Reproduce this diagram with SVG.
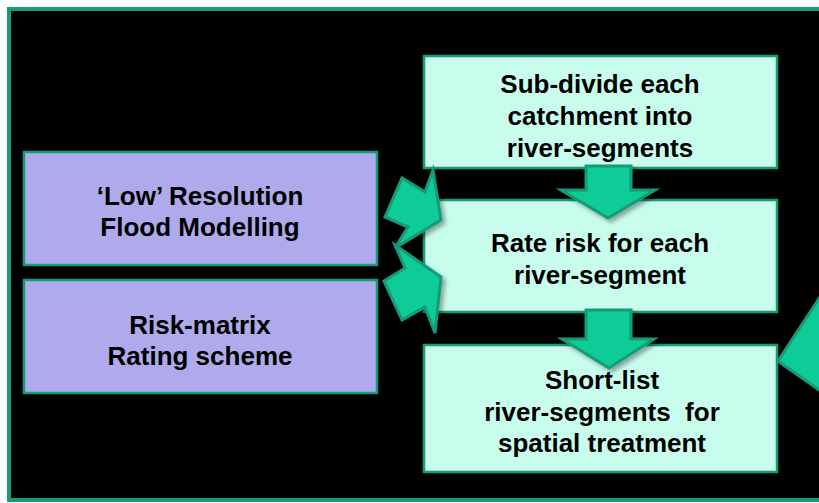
<svg xmlns="http://www.w3.org/2000/svg" width="819" height="503" viewBox="0 0 819 503">
<defs>
<style>
.bg{fill:#000;stroke:#169a78;stroke-width:4}
.p{fill:#aeaaeb;stroke:#169a78;stroke-width:2.5}
.c{fill:#c8fdee;stroke:#169a78;stroke-width:2.5}
.t{font-family:"Liberation Sans",Arial,sans-serif;font-weight:bold;font-size:26px;fill:#000;text-anchor:middle}
.a{fill:#0ccc98;stroke:#159a78;stroke-width:3;stroke-linejoin:miter;filter:url(#sh)}
</style>
<filter id="sh" x="-30%" y="-30%" width="160%" height="160%">
<feDropShadow dx="3" dy="3" stdDeviation="2" flood-color="#000" flood-opacity="0.35"/>
</filter>
</defs>
<rect x="0" y="0" width="819" height="503" fill="#fff"/>
<rect class="bg" x="9" y="9" width="830" height="491"/>
<g id="node-low-res">
<rect class="p" x="24" y="152" width="353" height="113"/>
<text class="t" x="200" y="205">‘Low’ Resolution</text>
<text class="t" x="200" y="236">Flood Modelling</text>
</g>
<g id="node-risk-matrix">
<rect class="p" x="24" y="280" width="353" height="113"/>
<text class="t" x="200" y="334">Risk-matrix</text>
<text class="t" x="200" y="365">Rating scheme</text>
</g>
<g id="node-subdivide">
<rect class="c" x="424" y="56" width="353" height="112"/>
<text class="t" x="600" y="93">Sub-divide each</text>
<text class="t" x="600" y="125">catchment into</text>
<text class="t" x="600" y="157">river-segments</text>
</g>
<g id="node-rate">
<rect class="c" x="424" y="200" width="353" height="112"/>
<text class="t" x="600" y="252">Rate risk for each</text>
<text class="t" x="600" y="284">river-segment</text>
</g>
<g id="node-shortlist">
<rect class="c" x="424" y="345" width="353" height="127"/>
<text class="t" x="602" y="389">Short-list</text>
<text class="t" x="602" y="421" xml:space="preserve">river-segments  for</text>
<text class="t" x="602" y="452">spatial treatment</text>
</g>
<g id="connectors">
<polygon class="a" points="586,166 631,166 631,190 655,190 608,218 561,190 586,190"/>
<polygon class="a" points="586,310 631,310 631,339 654,339 609,368 562,339 586,339"/>
<polygon class="a" points="385,217 402,178 425,192 433,170 441,220 395,248 408,227"/>
<polygon class="a" points="384,281 405,268 395,245 441,277 435,333 425,307 402,320"/>
<polygon class="a" points="778,361 822,294 822,392"/>
</g>
</svg>
